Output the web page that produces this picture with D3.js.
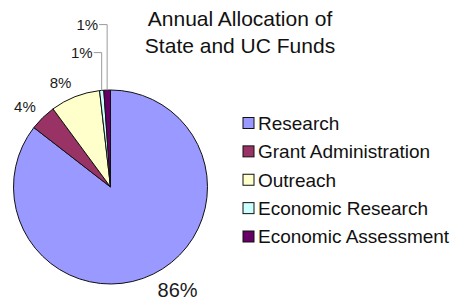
<!DOCTYPE html>
<html>
<head>
<meta charset="utf-8">
<script src="https://cdn.jsdelivr.net/npm/d3@7"></script>
<style>
  html, body { margin: 0; padding: 0; background: #fff; }
  svg { display: block; font-family: 'Liberation Sans', Arial, sans-serif; }
</style>
</head>
<body>
<div id="chart"></div>
<script>
// data (share of annual funds, %)
const categories = ['Research', 'Grant Administration', 'Outreach', 'Economic Research', 'Economic Assessment'];
const shares = [85.5, 4.4, 8.3, 0.7, 1.1];
const sliceColors = ['#9999ff', '#993366', '#ffffcc', '#ccffff', '#660066'];
const titleLines = ['Annual Allocation of', 'State and UC Funds'];

const width = 455;
const height = 304;
const cx = 110.5;
const cy = 187;
const radius = 97;

const svg = d3.select('#chart')
  .append('svg')
  .attr('width', width)
  .attr('height', height);

const color = d3.scaleOrdinal()
  .domain(categories)
  .range(sliceColors);

const pieData = d3.pie()
  .sort(null)
  .value(d => d.value)(categories.map((name, i) => ({ name, value: shares[i] })));

const arc = d3.arc().innerRadius(0).outerRadius(radius);

const pieGroup = svg.append('g')
  .attr('transform', `translate(${cx},${cy})`);

pieGroup.selectAll('path')
  .data(pieData)
  .enter()
  .append('path')
  .attr('d', arc)
  .style('fill', d => color(d.data.name))
  .style('stroke', '#111')
  .style('stroke-width', 1)
  .style('stroke-linejoin', 'round');

// point on a circle of radius r at the middle angle of a slice
function midPoint(d, r) {
  const a = (d.startAngle + d.endAngle) / 2;
  return [Math.sin(a) * r, -Math.cos(a) * r, a];
}

const labelGroup = pieGroup.append('g');
const smallSlices = pieData.filter(d => d.data.value < 2);

pieData.forEach(d => {
  const big = d.data.value > 50;
  const fontSize = big ? 20 : 15;
  const capH = fontSize * 0.72;
  const label = labelGroup.append('text')
    .text(Math.round(d.data.value) + '%')
    .style('font-size', fontSize + 'px')
    .style('fill', '#1a1a1a');

  if (d.data.value >= 2) {
    const [px, py, a] = midPoint(d, radius + 10);
    const cyLabel = py - Math.cos(a) * capH / 2;
    label
      .attr('x', px)
      .attr('y', cyLabel + capH / 2)
      .attr('text-anchor', Math.sin(a) >= 0 ? 'start' : 'end');
  } else {
    // small slices: stacked above the pie with leader lines
    const k = smallSlices.indexOf(d);
    const [px, py] = midPoint(d, radius);
    const baseline = -radius - 32 - 28 * k;
    const endX = px - 9;
    label
      .attr('x', endX)
      .attr('y', baseline)
      .attr('text-anchor', 'end');
    const midY = baseline - capH / 2;
    labelGroup.append('path')
      .attr('d', `M${endX + 1},${midY}H${px}V${py}`)
      .style('fill', 'none')
      .style('stroke', '#9a9a9a')
      .style('stroke-width', 1);
  }
});

// title
svg.append('g')
  .selectAll('text')
  .data(titleLines)
  .enter()
  .append('text')
  .attr('x', 240)
  .attr('y', (d, i) => 25.5 + i * 27)
  .attr('text-anchor', 'middle')
  .style('font-size', '21px')
  .style('fill', '#111')
  .text(d => d);

// legend
const legendY = d3.scalePoint()
  .domain(categories)
  .range([123, 236.5]);

const legend = svg.append('g')
  .selectAll('g')
  .data(categories)
  .enter()
  .append('g')
  .attr('transform', d => `translate(243,${legendY(d)})`);

legend.append('rect')
  .attr('x', 0)
  .attr('y', -5.5)
  .attr('width', 11)
  .attr('height', 11)
  .style('fill', d => color(d))
  .style('stroke', '#111')
  .style('stroke-width', 1);

legend.append('text')
  .attr('x', 15)
  .attr('y', 0)
  .attr('dy', '0.36em')
  .style('font-size', '19px')
  .style('fill', '#111')
  .text(d => d);
</script>
</body>
</html>
